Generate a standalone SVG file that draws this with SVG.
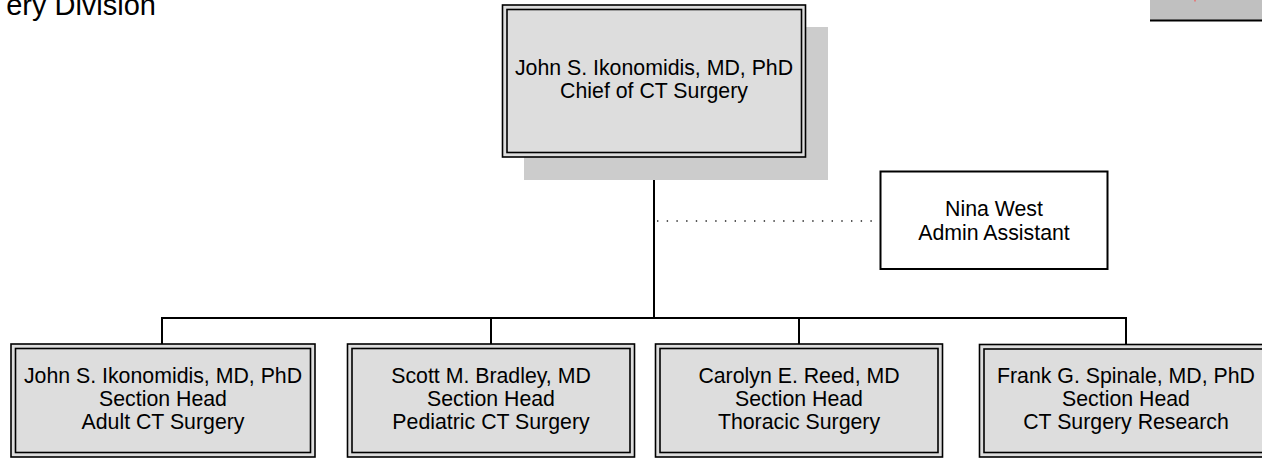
<svg xmlns="http://www.w3.org/2000/svg" width="1262" height="459" viewBox="0 0 1262 459">
<style>
.t{font-family:"Liberation Sans",Arial,sans-serif;font-size:21.3px;fill:#000;text-anchor:middle}
.outer{fill:#dddddd;stroke:#000;stroke-width:1.6}
.inner{fill:#dddddd;stroke:#000;stroke-width:1.6}
.conn{stroke:#000;stroke-width:2;fill:none}
</style>
<rect width="1262" height="459" fill="#fff"/>
<text x="156" y="15" style="font-family:'Liberation Sans',Arial,sans-serif;font-size:29px;text-anchor:end">ery Division</text>
<g id="legend">
<rect x="1150" y="-2" width="114" height="22" fill="#c0c0c0"/>
<line x1="1150" y1="20.5" x2="1262" y2="20.5" stroke="#000" stroke-width="2"/>
<rect x="1194" y="0" width="2" height="1.5" fill="#e08080"/>
</g>
<g id="connectors">
<line class="conn" x1="654" y1="157" x2="654" y2="318"/>
<line class="conn" x1="161" y1="318" x2="1127" y2="318"/>
<line class="conn" x1="162" y1="318" x2="162" y2="344"/>
<line class="conn" x1="491" y1="318" x2="491" y2="344"/>
<line class="conn" x1="799" y1="318" x2="799" y2="344"/>
<line class="conn" x1="1126" y1="318" x2="1126" y2="344"/>
<line x1="657" y1="221" x2="880" y2="221" stroke="#222" stroke-width="1.4" stroke-dasharray="1.4 8.3"/>
</g>
<g id="chief">
<rect x="524" y="27" width="304" height="153" fill="#cccccc"/>
<rect class="outer" x="502.5" y="5" width="303" height="152"/>
<rect class="inner" x="507" y="9.5" width="294.5" height="143"/>
<text class="t" x="654" y="75">John S. Ikonomidis, MD, PhD</text>
<text class="t" x="654" y="98">Chief of CT Surgery</text>
</g>
<g id="admin">
<rect x="880.5" y="171.5" width="227" height="97.5" fill="#fff" stroke="#000" stroke-width="2"/>
<text class="t" x="994" y="216">Nina West</text>
<text class="t" x="994" y="240">Admin Assistant</text>
</g>
<g id="adult">
<rect class="outer" x="11" y="344" width="304" height="113"/>
<rect class="inner" x="15.5" y="348.5" width="295" height="104"/>
<text class="t" x="163" y="383">John S. Ikonomidis, MD, PhD</text>
<text class="t" x="163" y="406">Section Head</text>
<text class="t" x="163" y="429">Adult CT Surgery</text>
</g>
<g id="pediatric">
<rect class="outer" x="347.5" y="344" width="287" height="113"/>
<rect class="inner" x="352" y="348.5" width="278" height="104"/>
<text class="t" x="491" y="383">Scott M. Bradley, MD</text>
<text class="t" x="491" y="406">Section Head</text>
<text class="t" x="491" y="429">Pediatric CT Surgery</text>
</g>
<g id="thoracic">
<rect class="outer" x="655.5" y="344" width="287" height="113"/>
<rect class="inner" x="660" y="348.5" width="278" height="104"/>
<text class="t" x="799" y="383">Carolyn E. Reed, MD</text>
<text class="t" x="799" y="406">Section Head</text>
<text class="t" x="799" y="429">Thoracic Surgery</text>
</g>
<g id="research">
<rect class="outer" x="979.5" y="344.5" width="294" height="112.5"/>
<rect class="inner" x="984" y="349" width="285" height="103.5"/>
<text class="t" x="1126" y="383">Frank G. Spinale, MD, PhD</text>
<text class="t" x="1126" y="406">Section Head</text>
<text class="t" x="1126" y="429">CT Surgery Research</text>
</g>
</svg>
